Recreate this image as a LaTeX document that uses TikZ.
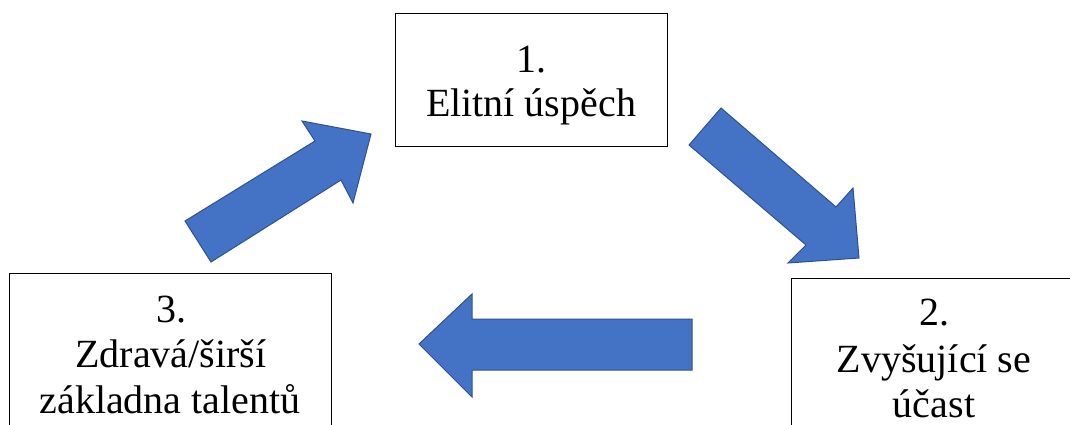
\documentclass[tikz,border=0pt]{standalone}
\usepackage{fontspec}
\setmainfont{Liberation Serif}
\definecolor{arrowfill}{HTML}{4472C4}
\definecolor{arrowline}{HTML}{2F528F}
\begin{document}
\begin{tikzpicture}[x=1pt,y=-1pt,
  box/.style={draw=black, line width=1pt, fill=white},
  txt/.style={inner sep=0pt, anchor=base, font=\fontsize{40}{45}\selectfont},
  blockarrow/.style={fill=arrowfill, draw=arrowline, line width=1pt, line join=miter}]
\useasboundingbox (0,0) rectangle (1070,425);
\clip (0,0) rectangle (1070,425);
% boxes
\draw[box] (395,14) rectangle (667,146);
\draw[box] (9,273) rectangle (331,440);
\draw[box] (791,278) rectangle (1090,440);
% box texts
\node[txt] (t1a) at (531,73) {1.};
\node[txt] (t1b) at (531,117) {Elitní úspěch};
\node[txt] (t2a) at (934,325) {2.};
\node[txt] (t2b) at (934,372) {Zvyšující se};
\node[txt] (t2c) at (934,417) {účast};
\node[txt] (t3a) at (171,322) {3.};
\node[txt] (t3b) at (171,367) {Zdravá/širší};
\node[txt] (t3c) at (170,413) {základna talentů};
% block arrows
\draw[blockarrow] (721,108) -- (836,207) -- (853,188) -- (859,258) -- (788,263) -- (806,245) -- (689,145) -- cycle;
\draw[blockarrow] (419,344) -- (472,294) -- (472,319) -- (692,319) -- (692,370) -- (472,370) -- (472,397) -- cycle;
\draw[blockarrow] (185,221) -- (315,141) -- (302,121) -- (371,134) -- (353,203) -- (341,180) -- (211,262) -- cycle;
\end{tikzpicture}
\end{document}
